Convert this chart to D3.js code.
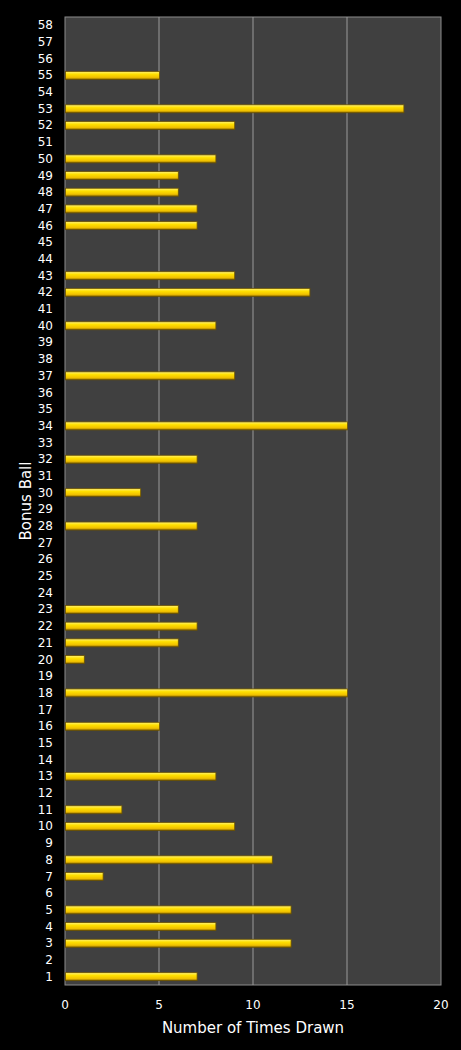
<!DOCTYPE html>
<html><head><meta charset="utf-8">
<script src="https://cdn.jsdelivr.net/npm/d3@7"></script>
<style>body{margin:0;background:#000;}svg{display:block;font-family:"DejaVu Sans",sans-serif;}</style>
</head><body>
<script>
const width = 461, height = 1050;
const balls = d3.range(1, 59);
const drawnBalls = [1,3,4,5,7,8,10,11,13,16,18,20,21,22,23,28,30,32,34,37,40,42,43,46,47,48,49,50,52,53,55];
const drawnCounts = [7,12,8,12,2,11,9,3,8,5,15,1,6,7,6,7,4,7,15,9,8,13,9,7,7,6,6,8,9,18,5];
const xTicks = [0,5,10,15,20];

const margin = {left: 65, right: 20, top: 17, bottom: 65};
const svg = d3.select("body").append("svg").attr("width", width).attr("height", height);

const x = d3.scaleLinear().domain([0, 20]).range([margin.left, width - margin.right]);
const y = d3.scaleBand().domain(balls.slice().reverse()).range([margin.top, height - margin.bottom]);

const defs = svg.append("defs");
const grad = defs.append("linearGradient").attr("id", "bar").attr("x1", 0).attr("x2", 0).attr("y1", 0).attr("y2", 1);
grad.append("stop").attr("offset", "0%").attr("stop-color", "#fff27a");
grad.append("stop").attr("offset", "35%").attr("stop-color", "#ffe000");
grad.append("stop").attr("offset", "75%").attr("stop-color", "#f0c000");
grad.append("stop").attr("offset", "100%").attr("stop-color", "#8a6a00");

svg.append("rect").attr("x", x(0)).attr("y", margin.top)
  .attr("width", x(20) - x(0)).attr("height", height - margin.bottom - margin.top)
  .attr("fill", "#404040").attr("stroke", "#8c8c8c");

svg.selectAll("line.grid").data(xTicks.slice(1, -1)).enter().append("line")
  .attr("x1", d => x(d)).attr("x2", d => x(d))
  .attr("y1", margin.top).attr("y2", height - margin.bottom)
  .attr("stroke", "#9a9a9a").attr("stroke-width", 1);

const bh = 8;
svg.selectAll("rect.bar").data(drawnBalls).enter().append("rect")
  .attr("x", x(0) + 0.5)
  .attr("y", d => y(d) + y.bandwidth() / 2 - bh / 2)
  .attr("width", (d, i) => x(drawnCounts[i]) - x(0))
  .attr("height", bh)
  .attr("fill", "url(#bar)").attr("stroke", "#6b5200").attr("stroke-width", 0.8);

svg.selectAll("text.yl").data(balls).enter().append("text")
  .attr("x", 53).attr("y", d => y(d) + y.bandwidth() / 2 + 4)
  .attr("text-anchor", "end").attr("fill", "#fff").attr("font-size", 12).text(d => d);

svg.selectAll("text.xl").data(xTicks).enter().append("text")
  .attr("x", d => x(d)).attr("y", 1009)
  .attr("text-anchor", "middle").attr("fill", "#fff").attr("font-size", 12).text(d => d);

svg.append("text").attr("x", 253).attr("y", 1033).attr("text-anchor", "middle")
  .attr("fill", "#fff").attr("font-size", 15).text("Number of Times Drawn");

svg.append("text").attr("transform", "translate(31,501) rotate(-90)").attr("text-anchor", "middle")
  .attr("fill", "#fff").attr("font-size", 15).text("Bonus Ball");
</script>
</body></html>
